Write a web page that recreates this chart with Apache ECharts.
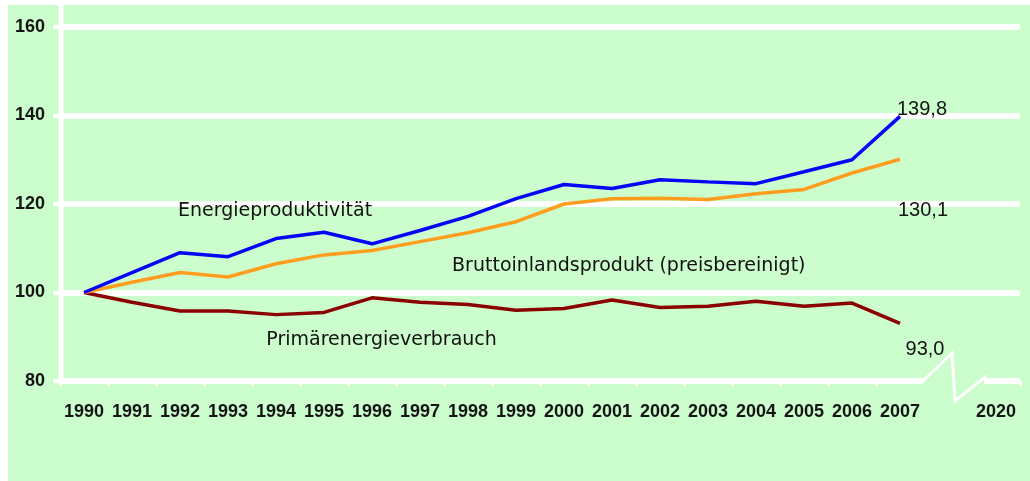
<!DOCTYPE html>
<html>
<head>
<meta charset="utf-8">
<script src="https://cdn.jsdelivr.net/npm/echarts@6/dist/echarts.min.js"></script>
<style>
  html, body { margin: 0; padding: 0; background: #fff; }
  #chart { width: 1030px; height: 481px; }
</style>
</head>
<body>
<div id="chart"></div>
<script>
// years on the x axis, the empty slot is the axis break
const years = ['1990', '1991', '1992', '1993', '1994', '1995', '1996', '1997', '1998', '1999',
  '2000', '2001', '2002', '2003', '2004', '2005', '2006', '2007', '', '2020'];

// index 1990 = 100
const energieproduktivitaet = [100, 104.5, 109, 108.1, 112.2, 113.6, 111, 114, 117.2, 121.2,
  124.4, 123.5, 125.5, 125, 124.6, 127.3, 130, 139.8, null, null];
const bip = [100, 102.3, 104.5, 103.5, 106.5, 108.5, 109.5, 111.5, 113.5, 116,
  120, 121.2, 121.3, 121, 122.3, 123.3, 127, 130.1, null, null];
const primaerenergie = [100, 97.8, 95.8, 95.8, 95, 95.5, 98.8, 97.8, 97.3, 96,
  96.4, 98.3, 96.6, 96.9, 98, 96.9, 97.6, 93.0, null, null];

const yTicks = [80, 100, 120, 140, 160];
const seriesNames = ['Energieproduktivität', 'Bruttoinlandsprodukt (preisbereinigt)', 'Primärenergieverbrauch'];

const GREEN = '#ccfdcc';
const WHITE = '#ffffff';
const TEXT = '#141414';
const SANS = '"Liberation Sans", Arial, sans-serif';
const GRID = { left: 60, right: 10, top: 27, bottom: 100 };

const chart = echarts.init(document.getElementById('chart'));

function fmt(v) {
  return v.toFixed(1).replace('.', ',');
}

const option = {
  backgroundColor: WHITE,
  animation: false,
  grid: GRID,
  xAxis: {
    type: 'category',
    data: years,
    boundaryGap: true,
    axisLine: { show: false },
    axisTick: { show: true, length: 5, lineStyle: { color: WHITE, width: 3 } },
    axisLabel: { color: TEXT, fontSize: 18, fontWeight: 'bold', fontFamily: SANS, margin: 22, interval: 0 },
    splitLine: { show: false }
  },
  yAxis: {
    type: 'value',
    min: yTicks[0],
    max: yTicks[yTicks.length - 1],
    interval: 20,
    axisLine: { show: false },
    axisTick: { show: true, length: 7, lineStyle: { color: WHITE, width: 4 } },
    axisLabel: { color: TEXT, fontSize: 18, fontWeight: 'bold', fontFamily: SANS, margin: 15 },
    splitLine: { show: true, lineStyle: { color: WHITE, width: 6 } }
  },
  series: [
    {
      name: seriesNames[0], type: 'line', data: energieproduktivitaet, z: 5,
      showSymbol: false, lineStyle: { color: '#0505f8', width: 3.5 }
    },
    {
      name: seriesNames[1], type: 'line', data: bip, z: 4,
      showSymbol: false, lineStyle: { color: '#ff9d1f', width: 3.5 }
    },
    {
      name: seriesNames[2], type: 'line', data: primaerenergie, z: 3,
      showSymbol: false, lineStyle: { color: '#8a0000', width: 3.5 }
    }
  ]
};
chart.setOption(option);

// pixel of a (possibly fractional) category index and a value
function toPx(idx, val) {
  const i0 = Math.floor(idx);
  const a = chart.convertToPixel('grid', [i0, val]);
  const b = chart.convertToPixel('grid', [i0 + 1, val]);
  const f = idx - i0;
  return [a[0] + (b[0] - a[0]) * f, a[1]];
}

const last = 17;
const step = toPx(1, 100)[0] - toPx(0, 100)[0];
const y80 = toPx(0, 80)[1];
const axisX = GRID.left + 1;

// series name annotations, placed in data space
const notePlaces = [[3.98, 118.3], [11.35, 105.9], [6.2, 89.2]];
const noteFont = { fontSize: 19, fontFamily: '"DejaVu Sans", sans-serif', fill: '#111' };

const graphics = [
  { type: 'rect', z: -10, shape: { x: 8, y: 5, width: 1030, height: 481 }, style: { fill: GREEN }, silent: true },
  { type: 'line', z: 1, shape: { x1: axisX, y1: 5, x2: axisX, y2: y80 + 3 }, style: { stroke: WHITE, lineWidth: 5 } }
];

notePlaces.forEach(function (p, i) {
  const px = toPx(p[0], p[1]);
  graphics.push({
    type: 'text', z: 20, x: px[0], y: px[1],
    style: Object.assign({ text: seriesNames[i], align: 'center', verticalAlign: 'middle' }, noteFont)
  });
});

// end values
const endVals = [energieproduktivitaet[last], bip[last], primaerenergie[last]];
const endOffsets = [[-3, -7, 'left'], [23, 51, 'center'], [25, 26, 'center']];
endVals.forEach(function (v, i) {
  const px = toPx(last, v);
  graphics.push({
    type: 'text', z: 20, x: px[0] + endOffsets[i][0], y: px[1] + endOffsets[i][1],
    style: { text: fmt(v), align: endOffsets[i][2], verticalAlign: 'middle', fontSize: 20, fontFamily: SANS, fill: TEXT }
  });
});

// axis break between 2007 and 2020
const bx0 = toPx(last, 80)[0] + step / 2 - 2;
const bx1 = bx0 + 63;
graphics.push({
  type: 'rect', z: 10, shape: { x: bx0 + 1, y: y80 - 5, width: bx1 - bx0 - 2, height: 14 }, style: { fill: GREEN }
});
graphics.push({
  type: 'polyline', z: 11,
  shape: { points: [[bx0, y80 + 1], [bx0 + 30, y80 - 28], [bx0 + 33, y80 + 20], [bx1, y80 - 4], [bx1, y80]] },
  style: { stroke: WHITE, lineWidth: 3, fill: null }
});

chart.setOption({ graphic: graphics });
</script>
</body>
</html>
